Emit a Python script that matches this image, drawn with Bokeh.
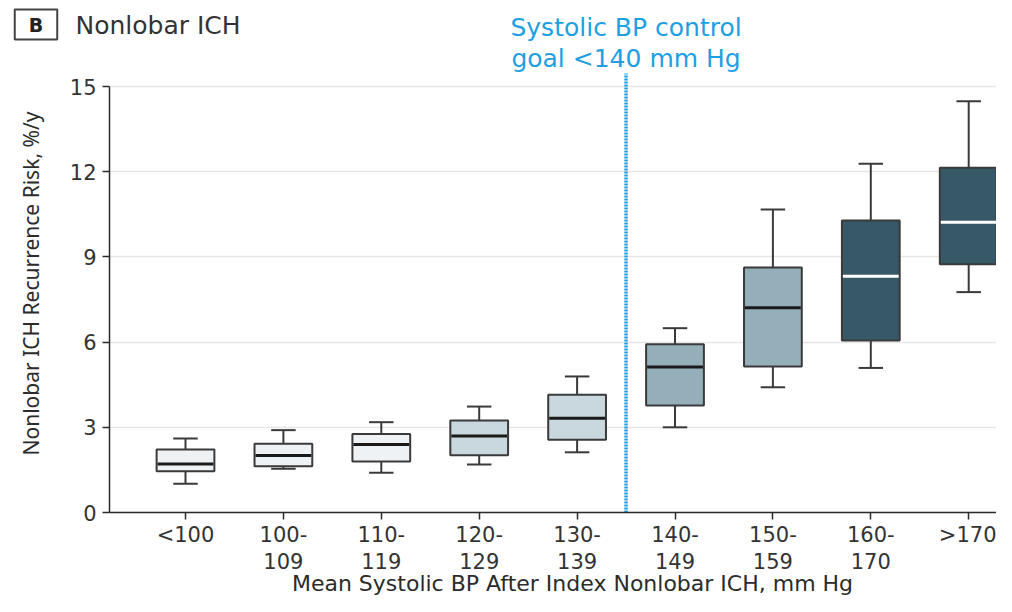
from bokeh.plotting import figure
from bokeh.models import FixedTicker, Label
from bokeh.embed import file_html
from bokeh.resources import INLINE
import numpy as np

categories = ["<100", "100-\n109", "110-\n119", "120-\n129", "130-\n139",
              "140-\n149", "150-\n159", "160-\n170", ">170"]
lower_whisker = [1.01, 1.54, 1.40, 1.69, 2.12, 3.00, 4.41, 5.09, 7.76]
q1 = [1.45, 1.63, 1.80, 2.02, 2.56, 3.77, 5.14, 6.06, 8.74]
median = [1.71, 2.01, 2.39, 2.69, 3.32, 5.12, 7.21, 8.32, 10.22]
q3 = [2.22, 2.42, 2.76, 3.24, 4.15, 5.92, 8.63, 10.28, 12.14]
upper_whisker = [2.61, 2.90, 3.18, 3.73, 4.79, 6.49, 10.67, 12.28, 14.48]
box_colors = ["#eef2f5", "#eef2f5", "#eef2f5", "#c9d7de", "#c9d7de",
              "#94afba", "#94afba", "#375866", "#375866"]
median_colors = ["#1a1a1a"] * 7 + ["#ffffff"] * 2
y_ticks = [0, 3, 6, 9, 12, 15]
y_max = 15
goal_position = 4.5
goal_text = "Systolic BP control\ngoal <140 mm Hg"
title_text = "Nonlobar ICH"
panel_letter = "B"
x_title = "Mean Systolic BP After Index Nonlobar ICH, mm Hg"
y_title = "Nonlobar ICH Recurrence Risk, %/y"

# layout helpers (pixel -> data) for placing annotations
W, H = 996, 596
X0_PX, XSTEP = 185.0, 97.9     # pixel of first category, pixels per category
Y0_PX, YSTEP = 512.0, 28.4     # pixel of y=0, pixels per unit
def dx(px):
    return (px - X0_PX) / XSTEP
def dy(py):
    return (Y0_PX - py) / YSTEP

x = np.arange(len(categories))
axis_x = dx(109)

p = figure(width=W, height=H, output_backend="svg", toolbar_location=None,
           x_range=(dx(0), dx(W)), y_range=(dy(H), dy(0)),
           x_axis_location="below", y_axis_location="left",
           min_border_left=0, min_border_right=0, min_border_top=0,
           min_border_bottom=0)
p.outline_line_color = None
p.background_fill_color = "white"
p.border_fill_color = "white"

p.xgrid.visible = False
grid = p.ygrid[0]
grid.ticker = FixedTicker(ticks=y_ticks)
grid.grid_line_color = "#e6e6e6"
grid.grid_line_width = 1.5
has_cross = "cross_bounds" in grid.properties()
if has_cross:
    grid.cross_bounds = (axis_x, dx(W))

dark = "#2b2b2b"
ya = p.yaxis[0]
ya.fixed_location = axis_x
ya.ticker = FixedTicker(ticks=y_ticks)
ya.bounds = (0, y_max)
ya.minor_tick_line_color = None
ya.major_tick_out = 7
ya.major_tick_in = 0
ya.axis_line_color = dark
ya.axis_line_width = 1.5
ya.major_tick_line_color = dark
ya.major_tick_line_width = 1.5
ya.major_label_text_font = "DejaVu Sans"
ya.major_label_text_font_size = "21px"
ya.major_label_text_color = "#333333"
ya.major_label_standoff = 6

xa = p.xaxis[0]
xa.fixed_location = 0
xa.bounds = (axis_x, dx(W))
xa.ticker = FixedTicker(ticks=list(range(len(categories))))
xa.major_label_overrides = {i: c for i, c in enumerate(categories)}
xa.minor_tick_line_color = None
xa.major_tick_out = 7
xa.major_tick_in = 0
xa.axis_line_color = dark
xa.axis_line_width = 1.5
xa.major_tick_line_color = dark
xa.major_tick_line_width = 1.5
xa.major_label_text_font = "DejaVu Sans"
xa.major_label_text_font_size = "21px"
xa.major_label_text_color = "#333333"
xa.major_label_text_line_height = 1.15
xa.major_label_standoff = 3

if not has_cross:
    p.quad(left=[dx(0)], right=[axis_x], bottom=[dy(H)], top=[dy(0)],
           fill_color="white", line_color=None, level="underlay")

# goal line
p.segment(x0=[goal_position], y0=[0], x1=[goal_position], y1=[dy(73)],
          line_color="#1ea0e0", line_width=3.5, line_dash="2 1")

bw = 0.59
cw = 0.25
lw = np.array(lower_whisker); uw = np.array(upper_whisker)
a1 = np.array(q1); a3 = np.array(q3); md = np.array(median)
edge = "#3a3a3a"
p.segment(x0=x, y0=a3, x1=x, y1=uw, line_color=edge, line_width=2)
p.segment(x0=x, y0=a1, x1=x, y1=lw, line_color=edge, line_width=2)
p.segment(x0=x - cw / 2, y0=uw, x1=x + cw / 2, y1=uw, line_color=edge, line_width=2)
p.segment(x0=x - cw / 2, y0=lw, x1=x + cw / 2, y1=lw, line_color=edge, line_width=2)
p.vbar(x=x, width=bw, bottom=a1, top=a3, fill_color=box_colors,
       line_color=edge, line_width=2)
p.segment(x0=x - bw / 2 + 0.01, y0=md, x1=x + bw / 2 - 0.01, y1=md,
          line_color=median_colors, line_width=3)

# texts
p.add_layout(Label(x=goal_position, y=dy(12), text=goal_text,
                   text_align="center", text_baseline="top",
                   text_font="DejaVu Sans", text_font_size="25px",
                   text_color="#1ea0e0", text_line_height=1.08))
p.add_layout(Label(x=dx(35.5), y=dy(24), text=panel_letter,
                   text_align="center", text_baseline="middle",
                   text_font="DejaVu Sans", text_font_style="bold",
                   text_font_size="19px", text_color="#222222",
                   border_line_color="#444444", border_line_width=2,
                   background_fill_color="white", padding=dict(x=14, y=4)))
p.add_layout(Label(x=dx(75), y=dy(25), text=title_text,
                   text_align="left", text_baseline="alphabetic",
                   text_font="DejaVu Sans", text_font_size="25px",
                   text_color="#333333"))
p.add_layout(Label(x=dx(572), y=dy(570), text=x_title,
                   text_align="center", text_baseline="top",
                   text_font="DejaVu Sans", text_font_size="22px",
                   text_color=dark))
p.add_layout(Label(x=dx(30), y=dy(283), text=y_title, angle=np.pi / 2,
                   text_align="center", text_baseline="middle",
                   text_font="Noto Sans", text_font_size="21px",
                   text_color=dark))

open("out.html", "w").write(file_html(p, INLINE))
